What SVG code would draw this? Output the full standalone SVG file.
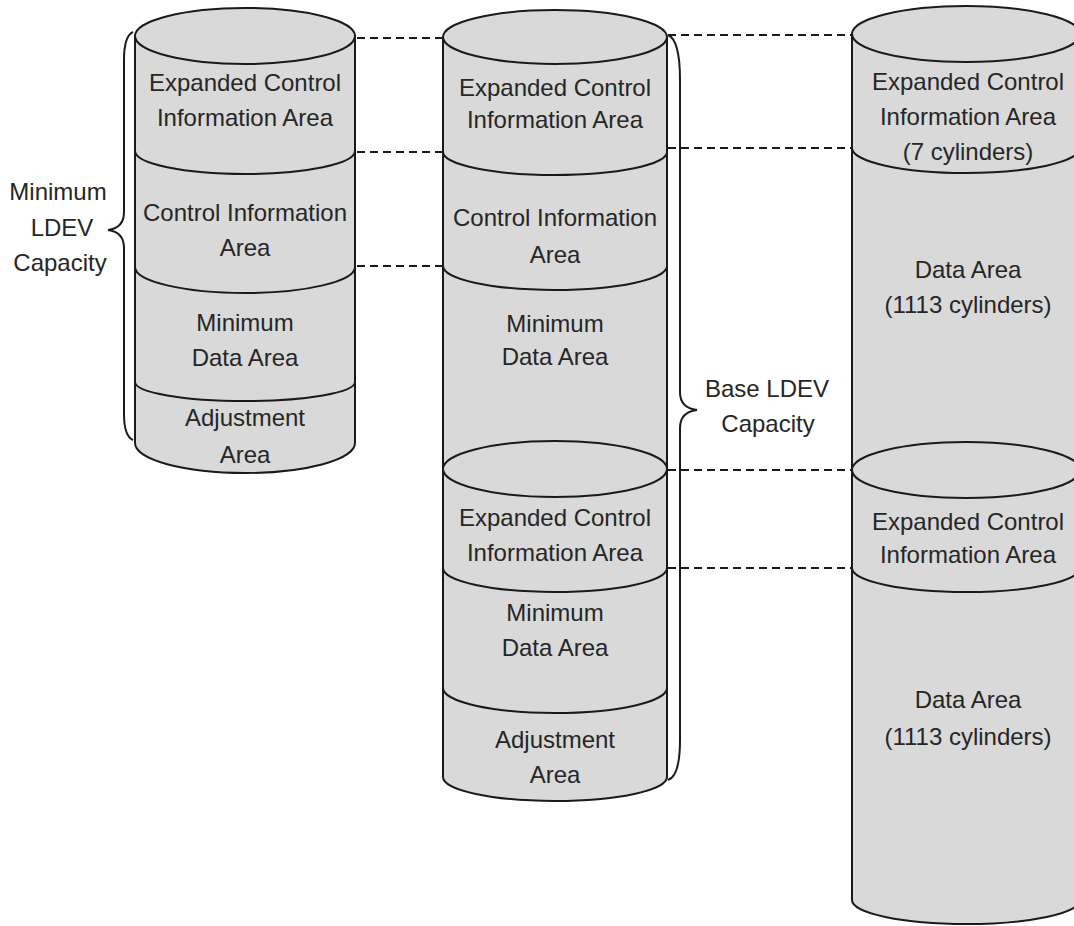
<svg xmlns="http://www.w3.org/2000/svg" width="1074" height="926" viewBox="0 0 1074 926">
<style>
.body{fill:#d9d9d9;stroke:#1a1a1a;stroke-width:2}
.sep{fill:none;stroke:#1a1a1a;stroke-width:2}
.dash{fill:none;stroke:#1a1a1a;stroke-width:2;stroke-dasharray:8 5}
.brace{fill:none;stroke:#1a1a1a;stroke-width:2}
text{font-family:"Liberation Sans",Arial,sans-serif;font-size:24px;fill:#262626;text-anchor:middle}
</style>
<rect width="1074" height="926" fill="#ffffff"/>
<g id="cyl-min">
<path class="body" d="M135,36 L135,443 A110,30 0 0 0 355,443 L355,36 Z"/>
<ellipse class="body" cx="245" cy="36" rx="110" ry="28"/>
<path class="sep" d="M135,151 A110,23 0 0 0 355,151"/>
<path class="sep" d="M135,267 A110,26 0 0 0 355,267"/>
<path class="sep" d="M135,382 A110,19 0 0 0 355,382"/>
<text x="245" y="91">Expanded Control</text>
<text x="245" y="126">Information Area</text>
<text x="245" y="221">Control Information</text>
<text x="245" y="256">Area</text>
<text x="245" y="331">Minimum</text>
<text x="245" y="366">Data Area</text>
<text x="245" y="426">Adjustment</text>
<text x="245" y="463">Area</text>
</g>
<g id="cyl-base">
<path class="body" d="M443,37 L443,777 A112,24 0 0 0 667,777 L667,37 Z"/>
<ellipse class="body" cx="555" cy="37" rx="112" ry="27"/>
<path class="sep" d="M443,152 A112,23 0 0 0 667,152"/>
<path class="sep" d="M443,266 A112,24 0 0 0 667,266"/>
<ellipse class="body" cx="555" cy="469" rx="112" ry="28"/>
<path class="sep" d="M443,568 A112,24 0 0 0 667,568"/>
<path class="sep" d="M443,688 A112,25 0 0 0 667,688"/>
<text x="555" y="96">Expanded Control</text>
<text x="555" y="128">Information Area</text>
<text x="555" y="226">Control Information</text>
<text x="555" y="263">Area</text>
<text x="555" y="332">Minimum</text>
<text x="555" y="365">Data Area</text>
<text x="555" y="526">Expanded Control</text>
<text x="555" y="561">Information Area</text>
<text x="555" y="621">Minimum</text>
<text x="555" y="656">Data Area</text>
<text x="555" y="748">Adjustment</text>
<text x="555" y="783">Area</text>
</g>
<g id="cyl-data">
<path class="body" d="M852,34 L852,900 A114,24 0 0 0 1080,900 L1080,34 Z"/>
<ellipse class="body" cx="966" cy="34" rx="114" ry="28"/>
<path class="sep" d="M852,148 A114,25 0 0 0 1080,148"/>
<ellipse class="body" cx="966" cy="470" rx="114" ry="28"/>
<path class="sep" d="M852,568 A114,24 0 0 0 1080,568"/>
<text x="968" y="90">Expanded Control</text>
<text x="968" y="125">Information Area</text>
<text x="968" y="160">(7 cylinders)</text>
<text x="968" y="278">Data Area</text>
<text x="968" y="313">(1113 cylinders)</text>
<text x="968" y="530">Expanded Control</text>
<text x="968" y="563">Information Area</text>
<text x="968" y="708">Data Area</text>
<text x="968" y="745">(1113 cylinders)</text>
</g>
<g id="label-min">
<path class="brace" d="M133,32 Q124,36 124,60 L124,212 Q124,228 108,230 Q124,232 124,248 L124,414 Q124,436 133,440"/>
<text x="58" y="200">Minimum</text>
<text x="62" y="236">LDEV</text>
<text x="60" y="271">Capacity</text>
</g>
<g id="label-base">
<path class="brace" d="M668,35 Q680,40 680,80 L680,392 Q680,408 697,410 Q680,412 680,428 L680,740 Q680,776 668,780"/>
<text x="767" y="397">Base LDEV</text>
<text x="768" y="432">Capacity</text>
</g>
<g id="connectors">
<path class="dash" d="M357,38 L443,38 M357,152 L443,152 M357,266 L443,266"/>
<path class="dash" d="M668,35 L852,35 M668,148 L852,148 M668,470 L852,470 M668,568 L852,568"/>
</g>
</svg>
